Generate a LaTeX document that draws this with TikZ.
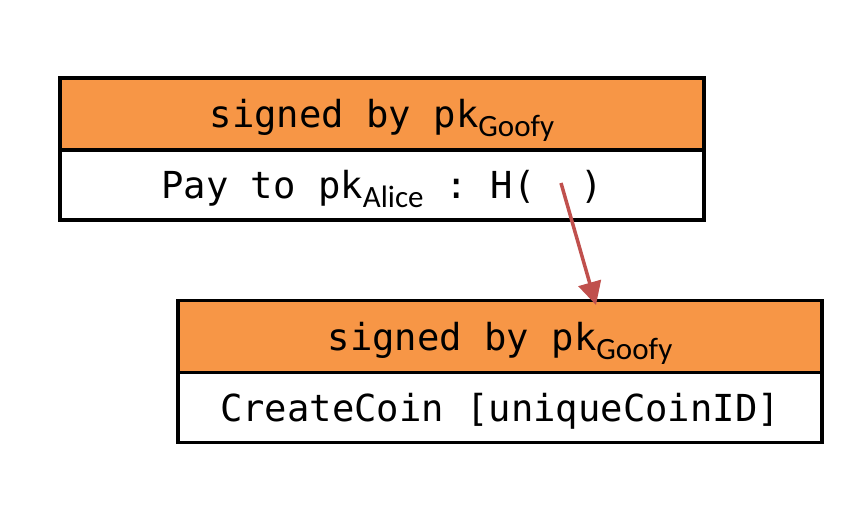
\documentclass[tikz,border=0pt]{standalone}
\usepackage{fontspec}
\setmonofont{DejaVu Sans Mono}
\newfontfamily\subfont{Carlito}
\usetikzlibrary{arrows.meta}
\definecolor{hdrorange}{HTML}{F79646}
\definecolor{arrowred}{HTML}{C0504D}
\newcommand{\pksub}[1]{pk\raisebox{-9pt}{\subfont\fontsize{31}{31}\selectfont #1}}
\tikzset{
  txbox/.style={draw = black, line width = 3.5pt, minimum width = 644pt,
    inner sep = 0pt, text height = 31pt, text depth = 3pt,
    font = \ttfamily\fontsize{37.2}{37.2}\selectfont},
  hdr/.style={txbox, fill = hdrorange, minimum height = 72pt},
  bdy/.style={txbox, fill = white, minimum height = 70pt}
}
\begin{document}
\begin{tikzpicture}[x=1pt, y=-1pt]
\useasboundingbox (0,0) rectangle (858,526);
% first transaction
\node [hdr] (sig1) at (382,114) {signed by \pksub{Goofy}};
\node [bdy] (pay1) at (382,185) {Pay to \pksub{Alice} : H(~~)};
% coin creation
\node [hdr] (sig2) at (500,336.5) {signed by \pksub{Goofy}};
\node [bdy] (coin2) at (500,407.5) {CreateCoin [uniqueCoinID]};
% hash pointer
\coordinate (hashin) at (561,183);
\coordinate (hashout) at (596,305);
\draw [arrowred, line width = 3.5pt, -{Triangle[length=23pt, width=23pt]}] (hashin) -- (hashout);
\end{tikzpicture}
\end{document}
